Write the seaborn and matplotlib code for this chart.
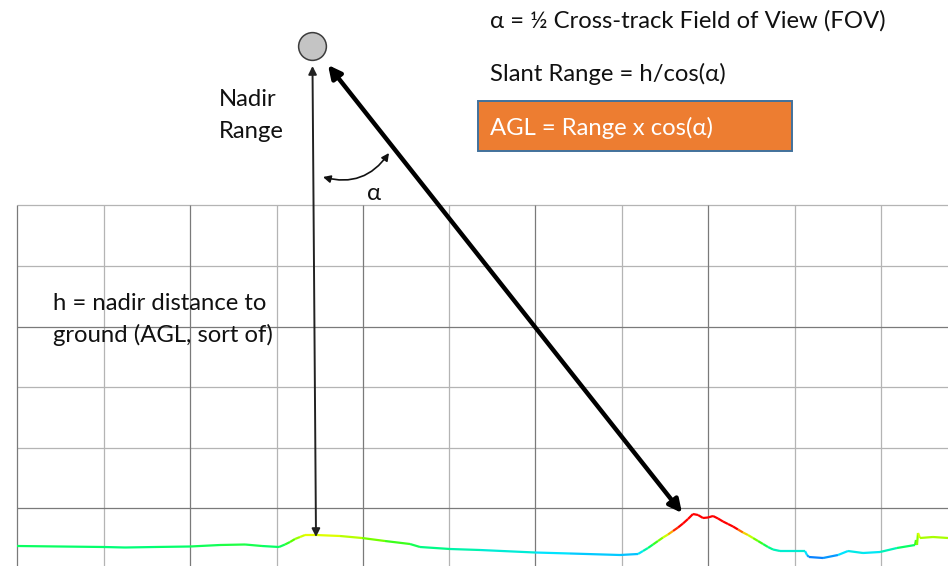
import numpy as np
import matplotlib
matplotlib.use("Agg")
import matplotlib.pyplot as plt
from matplotlib.collections import LineCollection
from matplotlib.colors import LinearSegmentedColormap, Normalize
from matplotlib.patches import Rectangle
import seaborn as sns

# everything in pixels, y grows downward
grid_x_dark = [17, 190, 363, 535, 708]
grid_x_light = [104.5, 277, 449, 622, 795, 881]
grid_y_dark = [327, 508]
grid_y_light = [205, 266, 387, 448]

profile_x = [17, 60, 104, 125, 155, 190, 220, 245, 262, 279, 285, 290, 295, 300, 305, 316, 340, 362, 385,
             410, 420, 450, 480, 535, 570, 620, 638, 643, 648, 653, 658, 663, 668, 673, 678, 683, 688, 693,
             698, 703, 708, 713, 718, 723, 728, 733, 738, 743, 748, 753, 758, 763, 768, 773, 780, 805, 807,
             809, 823, 838, 848, 863, 880, 897, 915, 916, 917, 918, 920, 933, 948]
profile_y = [546, 546.5, 547, 547.5, 547, 546.5, 545, 544.5, 546, 547, 544.5, 542, 539, 537, 535, 535, 536,
             538, 541, 544, 547, 549, 550, 552.5, 553.5, 555, 554, 551, 548, 544.5, 541, 537.5, 534.5, 531,
             527.5, 523.5, 519, 514, 515, 518, 517.5, 516, 518.5, 521.5, 524, 526.5, 529.5, 532.5, 535,
             538, 541, 544, 547, 549.5, 551, 551, 555, 557, 558, 555, 551, 553, 552, 548, 545, 540, 545,
             533, 538, 537, 538]

height_stops = [558, 553, 547, 541, 535, 532, 528]
height_colors = ["#0a78ff", "#00e5ff", "#00ff70", "#50ff00", "#e8ff00", "#ff9000", "#ff0000"]

satellite_x = [312.5]
satellite_y = [46]

sns.set_style("white")
plt.rcParams["font.family"] = ["Lato", "DejaVu Sans"]

fig = plt.figure(figsize=(9.48, 5.66), dpi=100)
ax = fig.add_axes([0, 0, 1, 1])
ax.set_xlim(0, 948)
ax.set_ylim(566, 0)
ax.axis("off")

# grid
ax.vlines(grid_x_light, 205, 566, color="#b4b4b4", lw=0.9, zorder=1)
ax.hlines(grid_y_light, 17, 948, color="#b4b4b4", lw=0.9, zorder=1)
ax.vlines(grid_x_dark, 205, 566, color="#7a7a7a", lw=0.9, zorder=1)
ax.hlines(grid_y_dark, 17, 948, color="#7a7a7a", lw=0.9, zorder=1)

# terrain profile, coloured by height
span = height_stops[0] - height_stops[-1]
stops = [(height_stops[0] - h) / span for h in height_stops]
cmap = LinearSegmentedColormap.from_list("terrain_height", list(zip(stops, height_colors)))
pts = np.column_stack([profile_x, profile_y])
segs = np.stack([pts[:-1], pts[1:]], axis=1)
mids = (pts[:-1, 1] + pts[1:, 1]) / 2
lc = LineCollection(segs, cmap=cmap, norm=Normalize(0, 1), linewidths=1.6, zorder=3)
lc.set_array((height_stops[0] - mids) / span)
ax.add_collection(lc)

# satellite
sns.scatterplot(x=satellite_x, y=satellite_y, s=400, color="#c4c4c4", edgecolor="#3c3c3c", linewidth=1.1,
                ax=ax, zorder=5, legend=False)
ax.set_xlim(0, 948)
ax.set_ylim(566, 0)

# arrows
ax.annotate("", xy=(312.5, 66), xytext=(316, 537), zorder=4,
            arrowprops=dict(arrowstyle="<|-|>", color="#222222", lw=1.4, mutation_scale=12, shrinkA=0, shrinkB=0))
ax.annotate("", xy=(328, 65), xytext=(682, 513), zorder=4,
            arrowprops=dict(arrowstyle="<|-|>", color="black", lw=3.2, mutation_scale=19, shrinkA=0, shrinkB=0))
ax.annotate("", xy=(323, 177), xytext=(389, 153), zorder=4,
            arrowprops=dict(arrowstyle="<|-|>", color="#111111", lw=1.2, mutation_scale=11, shrinkA=0, shrinkB=0,
                            connectionstyle="arc3,rad=-0.35"))

# AGL box
ax.add_patch(Rectangle((478, 101), 314, 50, facecolor="#ED7D31", edgecolor="#41719C", lw=1.4, zorder=2))

txt = dict(fontsize=17.2, color="#111111", va="center", ha="left", zorder=6)
ax.text(490, 21, "α = ½ Cross-track Field of View (FOV)", **txt)
ax.text(490, 74, "Slant Range = h/cos(α)", **txt)
ax.text(490, 128, "AGL = Range x cos(α)", **{**txt, "color": "white"})
ax.text(219, 99, "Nadir", **txt)
ax.text(219, 131, "Range", **txt)
ax.text(367, 193, "α", **txt)
ax.text(53, 303, "h = nadir distance to", **txt)
ax.text(53, 335, "ground (AGL, sort of)", **txt)

fig.savefig("out.png", dpi=100)
